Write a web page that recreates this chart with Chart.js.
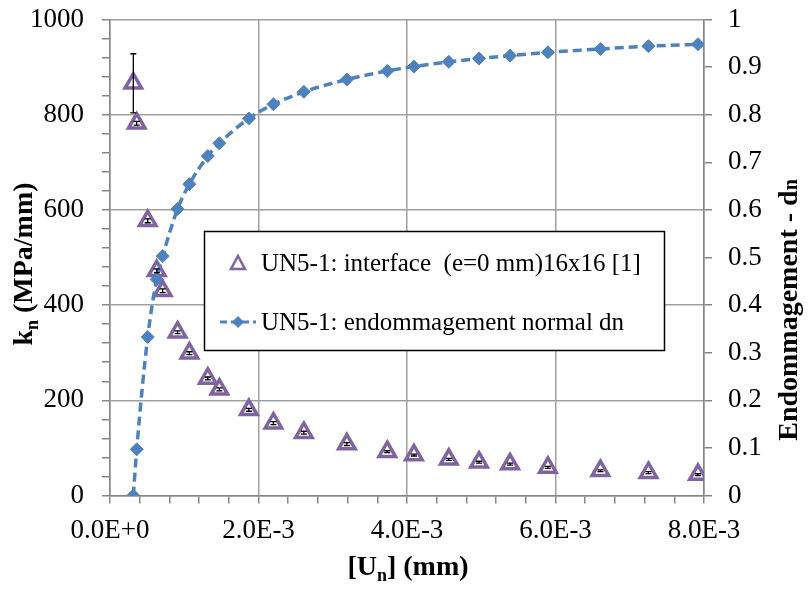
<!DOCTYPE html>
<html lang="fr">
<head>
  <meta charset="UTF-8" />
  <title>UN5-1 raideur normale et endommagement</title>
  <script src="https://cdn.jsdelivr.net/npm/chart.js"></script>
  <style>
    body {
      margin: 0;
      background: #fff;
    }
    .wrap {
      position: relative;
      width: 808px;
      height: 590px;
    }
  </style>
</head>
<body>
  <div class="wrap"><canvas id="knChart"></canvas></div>

  <script>
    // [Un] (mm), same abscissa for both series
    const opening = [0.000314, 0.000360, 0.000508, 0.000629, 0.000710, 0.000910, 0.001069, 0.001317,
      0.001473, 0.001870, 0.002201, 0.002611, 0.003190, 0.003734, 0.004094, 0.004563,
      0.004970, 0.005388, 0.005897, 0.006605, 0.007252, 0.007919];
    // kn (MPa/mm) and its error bar half-height
    const stiffness = [866, 782, 577, 472, 430, 343, 299, 246, 223, 180, 152,
      132, 108, 92, 85, 76, 70, 66, 59, 52, 48, 44];
    const stiffnessErr = [62, 4, 4, 4, 4, 3, 3, 3, 3, 3, 3, 3, 3, 2, 2, 2, 2, 2, 2, 2, 2, 2];
    // endommagement dn
    const damage = [0, 0.097, 0.333, 0.454, 0.503, 0.602, 0.654, 0.713, 0.740, 0.792, 0.822,
      0.848, 0.874, 0.892, 0.901, 0.911, 0.918, 0.924, 0.931, 0.938, 0.944, 0.948];
    const xTickLabels = ['0.0E+0', '2.0E-3', '4.0E-3', '6.0E-3', '8.0E-3'];
    const seriesNames = ['UN5-1: interface  (e=0 mm)16x16 [1]', 'UN5-1: endommagement normal dn'];

    const purple = '#8064a2';
    const blue = '#4f81bd';
    const gridGrey = '#a0a0a0';
    const axisGrey = '#868686';
    const serif = '"Liberation Serif", "Times New Roman", serif';

    const isMajorX = v => Math.round(v / 0.0004) % 5 === 0;
    const isMajorY = v => Math.round(v / 40) % 5 === 0;

    // fixed box sizes, no extra room for the end labels
    function fixBox(w, h) {
      return scale => {
        if (w) scale.width = w;
        if (h) scale.height = h;
        scale.paddingTop = 0;
        scale.paddingBottom = 0;
        scale.paddingLeft = 0;
        scale.paddingRight = 0;
      };
    }

    // text with small pieces (subscripts), drawn centred on (x, y)
    function drawRich(ctx, parts, x, y, angle) {
      ctx.save();
      ctx.translate(x, y);
      ctx.rotate(angle);
      ctx.textBaseline = 'alphabetic';
      ctx.textAlign = 'left';
      let total = 0;
      parts.forEach(p => {
        ctx.font = 'bold ' + p.size + 'px ' + serif;
        p.w = ctx.measureText(p.t).width;
        total += p.w;
      });
      let cx = -total / 2;
      parts.forEach(p => {
        ctx.font = 'bold ' + p.size + 'px ' + serif;
        ctx.fillStyle = '#000';
        ctx.fillText(p.t, cx, p.dy);
        cx += p.w;
      });
      ctx.restore();
    }

    const decorPlugin = {
      id: 'decor',
      afterDatasetsDraw(chart) {
        const ctx = chart.ctx;
        const xs = chart.scales.x;
        const ys = chart.scales.y;

        // error bars on kn
        ctx.save();
        ctx.strokeStyle = '#000';
        ctx.lineWidth = 1.3;
        opening.forEach((u, i) => {
          const px = xs.getPixelForValue(u);
          const top = ys.getPixelForValue(stiffness[i] + stiffnessErr[i]);
          const bot = ys.getPixelForValue(stiffness[i] - stiffnessErr[i]);
          ctx.beginPath();
          ctx.moveTo(px, top);
          ctx.lineTo(px, bot);
          ctx.moveTo(px - 3, top);
          ctx.lineTo(px + 3, top);
          ctx.moveTo(px - 3, bot);
          ctx.lineTo(px + 3, bot);
          ctx.stroke();
        });
        ctx.restore();
      },
      afterDraw(chart) {
        const ctx = chart.ctx;

        // legend box
        ctx.save();
        ctx.fillStyle = '#fff';
        ctx.fillRect(204.5, 231.5, 460, 119);
        ctx.strokeStyle = '#000';
        ctx.lineWidth = 1.5;
        ctx.strokeRect(204.5, 231.5, 460, 119);

        // triangle entry
        ctx.strokeStyle = purple;
        ctx.lineWidth = 2.5;
        ctx.beginPath();
        ctx.moveTo(238, 256);
        ctx.lineTo(245, 269);
        ctx.lineTo(231, 269);
        ctx.closePath();
        ctx.stroke();

        // dashed line entry
        ctx.strokeStyle = blue;
        ctx.lineWidth = 3;
        ctx.setLineDash([7, 4]);
        ctx.beginPath();
        ctx.moveTo(220, 322);
        ctx.lineTo(256, 322);
        ctx.stroke();
        ctx.setLineDash([]);
        ctx.fillStyle = blue;
        ctx.beginPath();
        ctx.moveTo(238, 316);
        ctx.lineTo(244, 322);
        ctx.lineTo(238, 328);
        ctx.lineTo(232, 322);
        ctx.closePath();
        ctx.fill();

        ctx.fillStyle = '#000';
        ctx.font = '25px ' + serif;
        ctx.textBaseline = 'alphabetic';
        ctx.fillText(seriesNames[0], 261, 271);
        ctx.fillText(seriesNames[1], 261, 330);
        ctx.restore();

        // axis titles
        drawRich(ctx, [
          { t: 'k', size: 28, dy: 0 },
          { t: 'n', size: 18, dy: 6 },
          { t: ' (MPa/mm)', size: 28, dy: 0 }
        ], 32, 264, -Math.PI / 2);
        drawRich(ctx, [
          { t: 'Endommagement - d', size: 28, dy: 0 },
          { t: 'n', size: 20, dy: 0 }
        ], 797, 310, -Math.PI / 2);
        drawRich(ctx, [
          { t: '[U', size: 28, dy: 0 },
          { t: 'n', size: 18, dy: 6 },
          { t: '] (mm)', size: 28, dy: 0 }
        ], 408, 575, 0);
      }
    };

    const tickFont = { family: serif, size: 27 };

    new Chart(document.getElementById('knChart'), {
      type: 'scatter',
      data: {
        datasets: [
          {
            label: seriesNames[0],
            data: opening.map((u, i) => ({ x: u, y: stiffness[i] })),
            yAxisID: 'y',
            showLine: false,
            pointStyle: 'triangle',
            pointRadius: 9.5,
            pointBorderWidth: 3.5,
            pointBorderColor: purple,
            pointBackgroundColor: '#fff',
            order: 2
          },
          {
            label: seriesNames[1],
            data: opening.map((u, i) => ({ x: u, y: damage[i] })),
            yAxisID: 'y2',
            showLine: true,
            borderColor: blue,
            borderWidth: 3.5,
            borderDash: [9, 5],
            cubicInterpolationMode: 'monotone',
            pointStyle: 'rectRot',
            pointRadius: 6.5,
            pointBorderWidth: 1,
            pointBorderColor: blue,
            pointBackgroundColor: blue,
            order: 1
          }
        ]
      },
      options: {
        responsive: true,
        maintainAspectRatio: false,
        animation: false,
        layout: { padding: { top: 19.5, left: 0, right: 0, bottom: 0 } },
        plugins: {
          legend: { display: false },
          tooltip: { enabled: false }
        },
        scales: {
          x: {
            type: 'linear',
            min: 0,
            max: 0.008,
            afterFit: fixBox(0, 94.5),
            ticks: {
              stepSize: 0.0004,
              autoSkip: false,
              maxRotation: 0,
              padding: 11,
              color: '#000',
              font: tickFont,
              callback: v => isMajorX(v) ? xTickLabels[Math.round(v / 0.002)] : ''
            },
            grid: {
              color: c => (c.tick && isMajorX(c.tick.value)) ? gridGrey : 'rgba(0,0,0,0)',
              lineWidth: 1.5,
              tickColor: axisGrey,
              tickLength: 8
            },
            border: { color: axisGrey, width: 1.5 }
          },
          y: {
            type: 'linear',
            position: 'left',
            min: 0,
            max: 1000,
            afterFit: fixBox(110, 0),
            ticks: {
              stepSize: 40,
              autoSkip: false,
              padding: 18,
              color: '#000',
              font: tickFont,
              callback: v => isMajorY(v) ? String(v) : ''
            },
            grid: {
              color: c => (c.tick && isMajorY(c.tick.value)) ? gridGrey : 'rgba(0,0,0,0)',
              lineWidth: 1.5,
              tickColor: axisGrey,
              tickLength: 8
            },
            border: { color: axisGrey, width: 1.5 }
          },
          y2: {
            type: 'linear',
            position: 'right',
            min: 0,
            max: 1,
            afterFit: fixBox(104, 0),
            ticks: {
              stepSize: 0.1,
              autoSkip: false,
              padding: 16,
              color: '#000',
              font: tickFont,
              callback: v => String(+v.toFixed(1))
            },
            grid: {
              drawOnChartArea: false,
              tickColor: axisGrey,
              tickLength: 8,
              lineWidth: 1.5
            },
            border: { color: axisGrey, width: 1.5 }
          }
        }
      },
      plugins: [decorPlugin]
    });
  </script>
</body>
</html>
